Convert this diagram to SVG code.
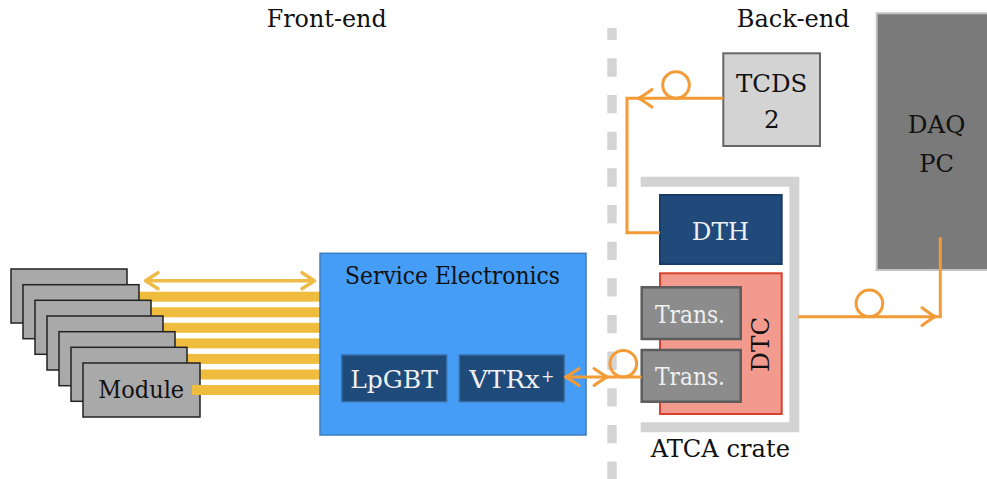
<svg xmlns="http://www.w3.org/2000/svg" width="987" height="479" viewBox="0 0 987 479">
  <style>
    text { font-family: "DejaVu Serif", "Noto Serif", "Liberation Serif", serif; font-size: 24.5px; }
    .dark { fill: #111111; }
    .light { fill: #F0F0F0; }
    .module { fill: #A9A9A9; stroke: #222222; stroke-width: 1.5; }
    .bar { fill: #F0BC3E; }
    .fibre { fill: none; stroke: #F39B36; stroke-width: 3; }
    .chev { fill: none; stroke: #F39B36; stroke-width: 3; stroke-linecap: round; stroke-linejoin: round; }
    .ychev { fill: none; stroke: #EFBB48; stroke-width: 3.5; stroke-linecap: round; stroke-linejoin: round; }
    .chip { fill: #1F4B7B; stroke: #3A70A8; stroke-width: 1.5; }
    .trans { fill: #8C8C8C; stroke: #5C5C5C; stroke-width: 2.5; }
  </style>

  <!-- section headings -->
  <text x="326.7" y="27" text-anchor="middle" class="dark" textLength="120" lengthAdjust="spacingAndGlyphs">Front-end</text>
  <text x="793.3" y="27" text-anchor="middle" class="dark" textLength="113" lengthAdjust="spacingAndGlyphs">Back-end</text>

  <!-- front-end / back-end boundary -->
  <line x1="612" y1="28" x2="612" y2="479" stroke="#D4D4D4" stroke-width="9.4" stroke-dasharray="18.33 18.33" stroke-dashoffset="6.33"/>

  <!-- electrical links between modules and service electronics -->
  <g id="links">
    <rect class="bar" x="120" y="291.7" width="200" height="10"/>
    <rect class="bar" x="120" y="307.3" width="200" height="10"/>
    <rect class="bar" x="120" y="322.8" width="200" height="10"/>
    <rect class="bar" x="120" y="338.4" width="200" height="10"/>
    <rect class="bar" x="120" y="353.9" width="200" height="10"/>
    <rect class="bar" x="120" y="369.5" width="200" height="10"/>
  </g>

  <!-- stack of detector modules -->
  <g id="modules">
    <rect class="module" x="11" y="269" width="116" height="54"/>
    <rect class="module" x="23" y="284.7" width="116" height="54"/>
    <rect class="module" x="35" y="300.3" width="116" height="54"/>
    <rect class="module" x="47" y="316" width="116" height="54"/>
    <rect class="module" x="59" y="331.7" width="116" height="54"/>
    <rect class="module" x="71" y="347.3" width="116" height="54"/>
    <g id="module">
      <rect class="module" x="83" y="363" width="117" height="54"/>
      <text x="141.2" y="398.3" text-anchor="middle" class="dark" textLength="86" lengthAdjust="spacingAndGlyphs">Module</text>
    </g>
  </g>
  <rect class="bar" x="192" y="385" width="128" height="10"/>

  <!-- service electronics -->
  <g id="service-electronics">
    <rect x="320" y="253.3" width="266" height="181.7" fill="#469DF5" stroke="#3B7CC2" stroke-width="1.5"/>
    <text x="452.5" y="284" text-anchor="middle" class="dark" textLength="215" lengthAdjust="spacingAndGlyphs">Service Electronics</text>
  </g>
  <g id="lpgbt">
    <rect class="chip" x="341.7" y="355" width="105" height="46.7"/>
    <text x="394" y="387.7" text-anchor="middle" class="light" textLength="87.7" lengthAdjust="spacingAndGlyphs">LpGBT</text>
  </g>
  <g id="vtrx">
    <rect class="chip" x="459.3" y="355" width="105" height="46.7"/>
    <text x="469.3" y="387.7" class="light"><tspan textLength="70.5" lengthAdjust="spacingAndGlyphs">VTRx</tspan><tspan x="541" y="382" font-size="16">+</tspan></text>
  </g>

  <!-- back-end -->
  <g id="tcds">
    <rect x="723.3" y="53.3" width="96.7" height="92.7" fill="#D3D3D3" stroke="#666666" stroke-width="2"/>
    <text x="771.7" y="91.7" text-anchor="middle" class="dark" textLength="71.3" lengthAdjust="spacingAndGlyphs">TCDS</text>
    <text x="771.7" y="128.3" text-anchor="middle" class="dark">2</text>
  </g>

  <g id="daq-pc">
    <rect x="876.7" y="13.3" width="120" height="256.7" fill="#7A7A7A" stroke="#C2C2C2" stroke-width="2"/>
    <text x="936.5" y="133.3" text-anchor="middle" class="dark" textLength="57.7" lengthAdjust="spacingAndGlyphs">DAQ</text>
    <text x="936.7" y="171.7" text-anchor="middle" class="dark" textLength="34.7" lengthAdjust="spacingAndGlyphs">PC</text>
  </g>

  <g id="atca-crate">
    <path d="M640.7,181.7 H794.3 V427.3 H640.7" fill="none" stroke="#D3D3D3" stroke-width="10"/>
    <text x="720.3" y="457.3" text-anchor="middle" class="dark" textLength="139.3" lengthAdjust="spacingAndGlyphs">ATCA crate</text>
  </g>

  <g id="dth">
    <rect x="660" y="195" width="121.7" height="69" fill="#1F4A7A" stroke="#173C66" stroke-width="2"/>
    <text x="720.5" y="240" text-anchor="middle" class="light" textLength="57.3" lengthAdjust="spacingAndGlyphs">DTH</text>
  </g>

  <g id="dtc">
    <rect x="660" y="273.3" width="121.7" height="140.7" fill="#F29A8E" stroke="#D8412E" stroke-width="2"/>
    <text transform="translate(769,344.2) rotate(-90)" text-anchor="middle" class="dark" textLength="55" lengthAdjust="spacingAndGlyphs">DTC</text>
  </g>

  <g id="trans-1">
    <rect class="trans" x="641.7" y="287.3" width="99" height="51.7"/>
    <text x="690" y="323.3" text-anchor="middle" class="light" textLength="70" lengthAdjust="spacingAndGlyphs">Trans.</text>
  </g>
  <g id="trans-2">
    <rect class="trans" x="641.7" y="350" width="99" height="51.7"/>
    <text x="690" y="385" text-anchor="middle" class="light" textLength="70" lengthAdjust="spacingAndGlyphs">Trans.</text>
  </g>

  <!-- connectors -->
  <g id="connectors">
    <!-- module bundle data/control -->
    <line x1="146" y1="280.7" x2="314" y2="280.7" stroke="#EFBB48" stroke-width="3.5"/>
    <path class="ychev" d="M158,272.7 L145.5,280.7 L158,288.7"/>
    <path class="ychev" d="M302,272.7 L314.5,280.7 L302,288.7"/>

    <!-- VTRx+ to transceiver optical link -->
    <line class="fibre" x1="566" y1="377" x2="641.7" y2="377"/>
    <path class="chev" d="M579,368.5 Q569,375.5 565.5,377 Q569,378.5 579,385.5"/>
    <path class="chev" d="M594,368.5 Q604,375.5 607.5,377 Q604,378.5 594,385.5"/>
    <circle class="fibre" cx="623.3" cy="363.7" r="13.3"/>

    <!-- TCDS to DTH -->
    <path class="fibre" d="M723.3,98.3 H627 V232.7 H660"/>
    <path class="chev" d="M652,89.5 Q642,96.8 638.5,98.3 Q642,99.8 652,107"/>
    <circle class="fibre" cx="676" cy="85" r="13.3"/>

    <!-- crate to DAQ PC -->
    <path class="fibre" d="M798.3,316.7 H940.3 V237.3"/>
    <path class="chev" d="M922,307.8 Q932,315.2 935.5,316.7 Q932,318.2 922,325.5"/>
    <circle class="fibre" cx="869.4" cy="303.4" r="13.3"/>
  </g>
</svg>
